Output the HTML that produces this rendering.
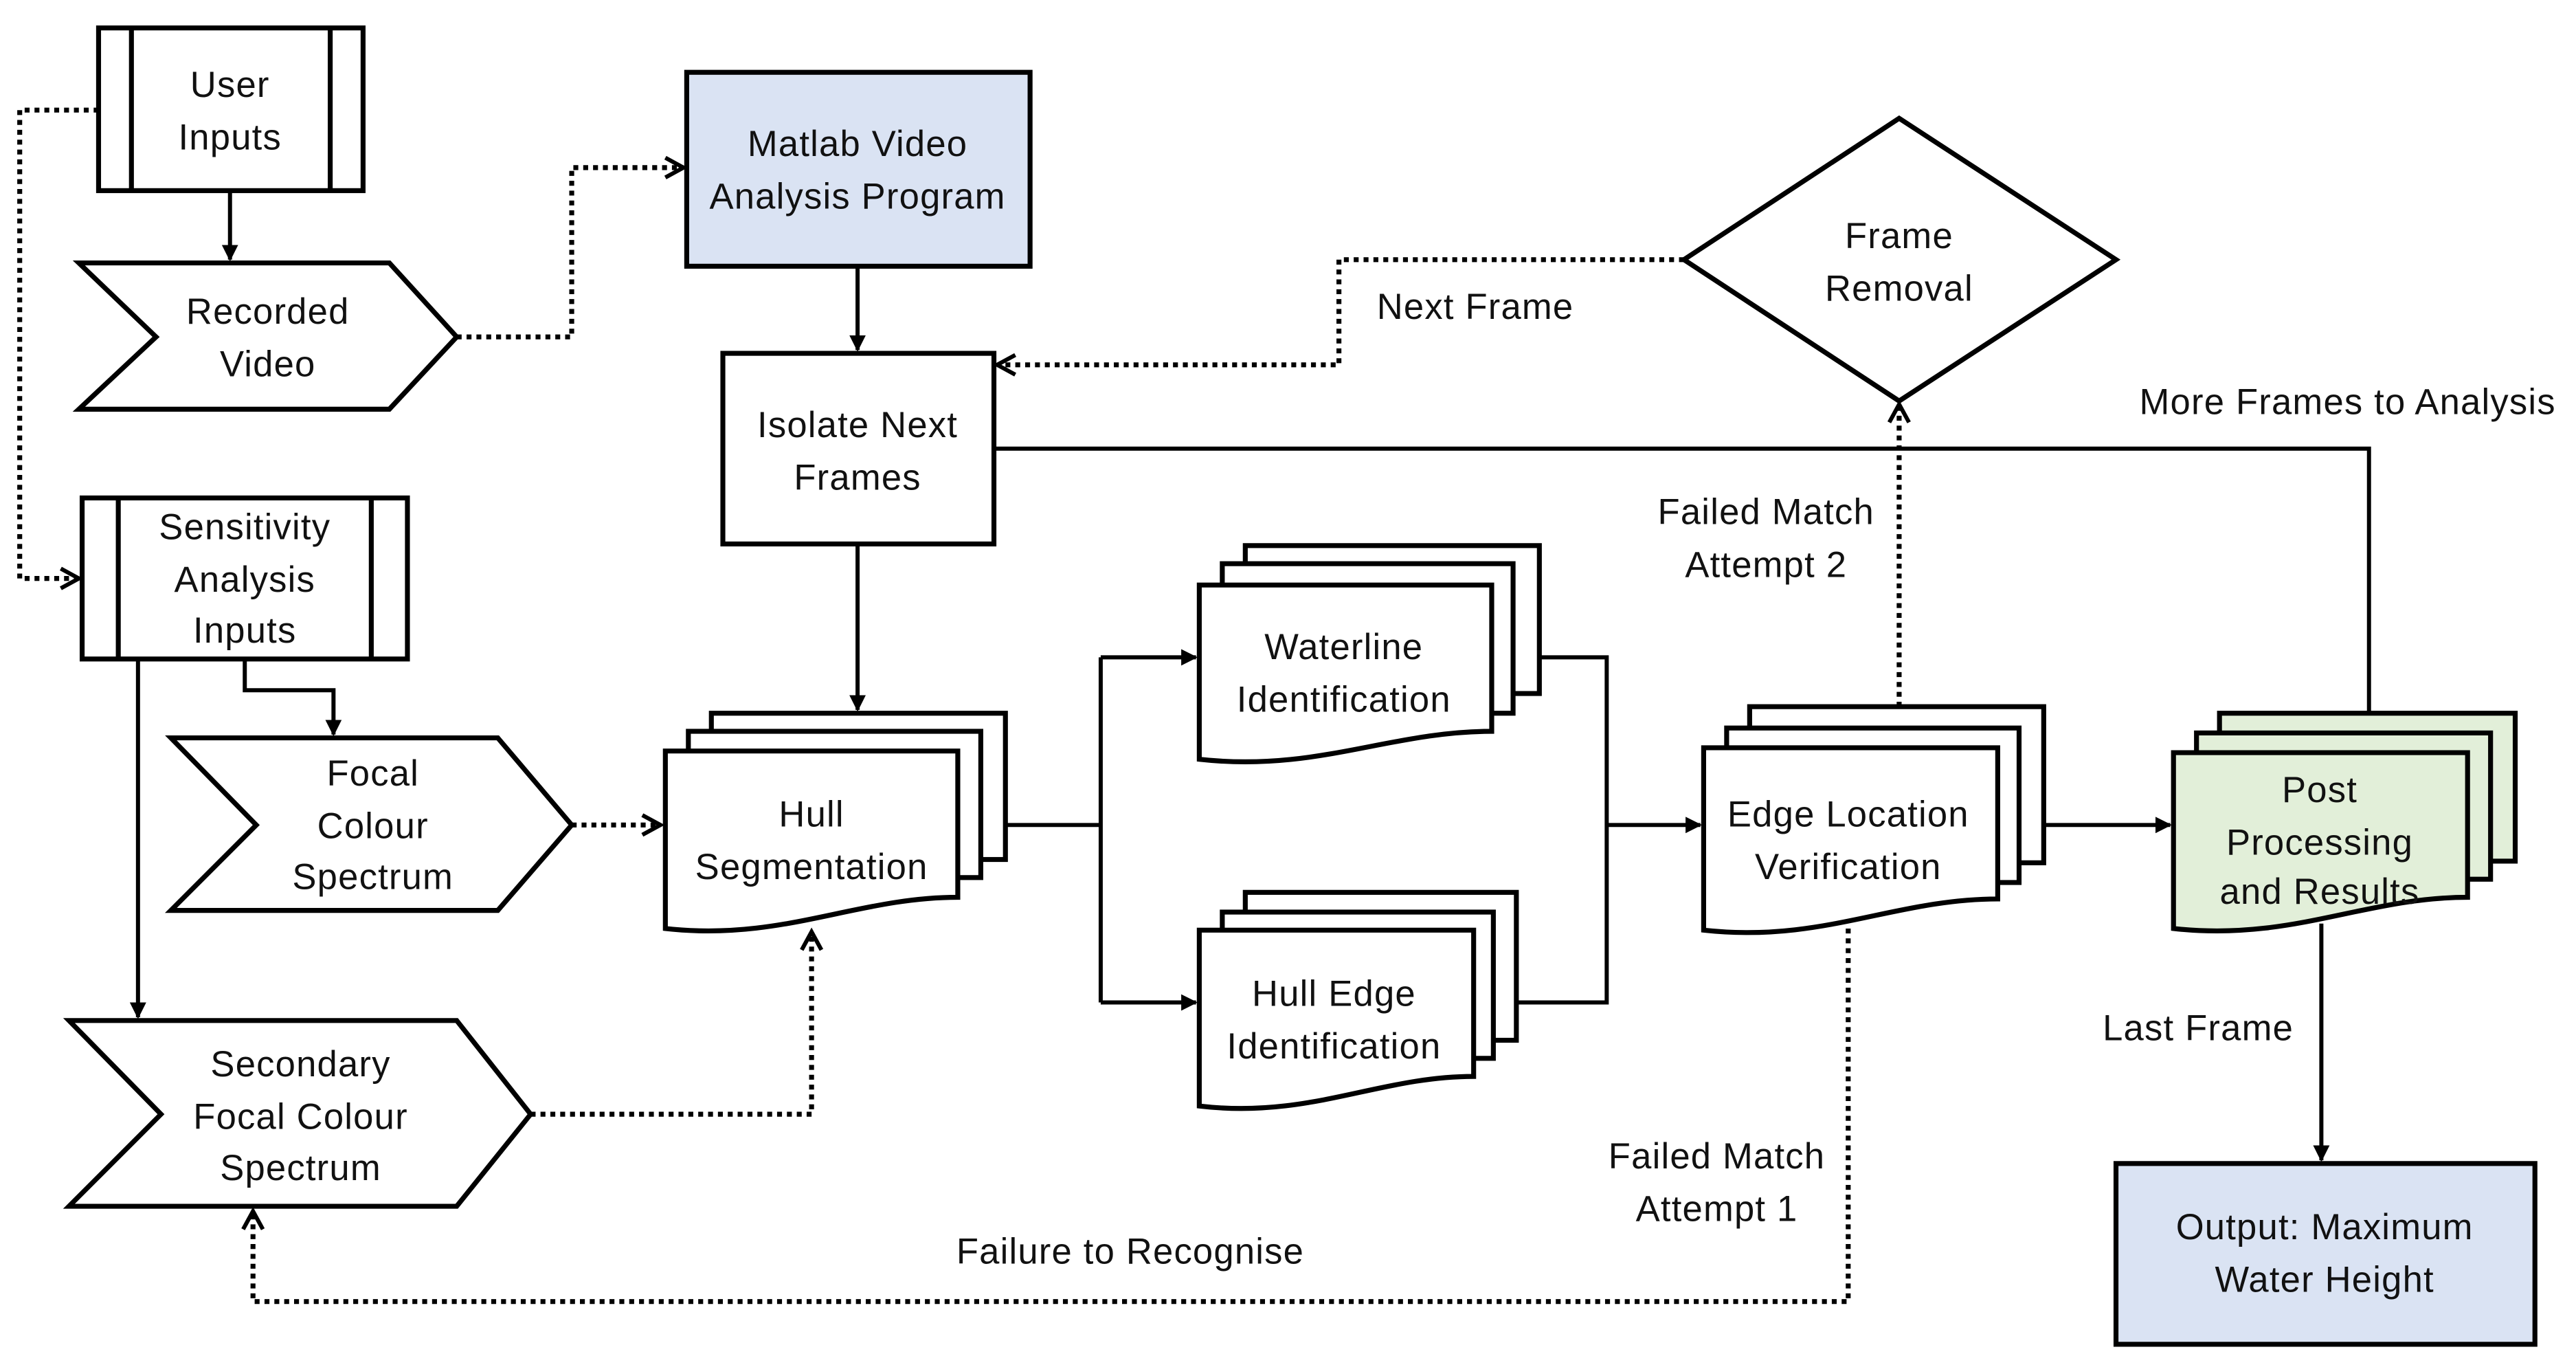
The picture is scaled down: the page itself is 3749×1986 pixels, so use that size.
<!DOCTYPE html>
<html><head><meta charset="utf-8"><style>
html,body{margin:0;padding:0;background:#fff;}
svg{display:block;}
text{font-family:"Liberation Sans",sans-serif;font-size:22px;letter-spacing:0.5px;fill:#111;text-anchor:middle;}
</style></head><body>
<svg width="3749" height="1986" viewBox="0 0 1568 830.6" preserveAspectRatio="none" xmlns="http://www.w3.org/2000/svg">
<defs>
<marker id="a" markerWidth="10" markerHeight="10" refX="9" refY="5" orient="auto" markerUnits="userSpaceOnUse" viewBox="0 0 10 10">
<path d="M0,0 L10,5 L0,10 Z" fill="#000"/></marker>
<marker id="b" markerWidth="16" markerHeight="16" refX="13" refY="8" orient="auto" markerUnits="userSpaceOnUse" viewBox="0 0 16 16">
<path d="M2,2 L13,8 L2,14" fill="none" stroke="#000" stroke-width="2.5"/></marker>
</defs>
<g fill="#fff" stroke="#000" stroke-width="3">
<rect x="60" y="17" width="161" height="99"/>
<line x1="80" y1="17" x2="80" y2="116"/><line x1="201" y1="17" x2="201" y2="116"/>
<polygon points="48,160 237,160 278,205 237,249 48,249 95,205"/>
<rect x="418" y="44" width="209" height="118" fill="#dae3f3"/>
<rect x="440" y="215" width="165" height="116"/>
<polygon points="1025,158 1156,72 1288,158 1156,244"/>
<rect x="50" y="303" width="198" height="98"/>
<line x1="72" y1="303" x2="72" y2="401"/><line x1="226" y1="303" x2="226" y2="401"/>
<polygon points="104,449 303,449 348,502 303,554 104,554 156,502"/>
<polygon points="42,621 278,621 323,678 278,734 42,734 98,678"/>
<!-- Hull seg -->
<rect x="433" y="434" width="179" height="89"/>
<rect x="419" y="445" width="178" height="89"/>
<path d="M405 457 H583 V546 C521 546 476 573 405 565 Z"/>
<!-- Waterline -->
<rect x="758" y="332" width="179" height="90"/>
<rect x="744" y="343" width="177" height="91"/>
<path d="M730 356 H908 V445 C846 445 801 470 730 462 Z"/>
<!-- Hull edge -->
<rect x="758" y="543" width="165" height="90"/>
<rect x="744" y="555" width="165" height="89"/>
<path d="M730 566 H897 V655 C839 655 797 681 730 673 Z"/>
<!-- Edge location -->
<rect x="1065" y="430" width="179" height="95"/>
<rect x="1051" y="443" width="178" height="94"/>
<path d="M1037 455 H1216 V547 C1153 547 1109 574 1037 566 Z"/>
<!-- Post processing -->
<g fill="#e2efd9">
<rect x="1351" y="434" width="180" height="90"/>
<rect x="1337" y="446" width="179" height="89"/>
<path d="M1323 458 H1502 V546 C1439 546 1395 573 1323 565 Z"/>
</g>
<rect x="1288" y="708" width="255" height="110" fill="#dae3f3"/>
</g>

<g fill="none" stroke="#000" stroke-width="2.5">
<line x1="140" y1="116" x2="140" y2="158" marker-end="url(#a)"/>
<line x1="522" y1="162" x2="522" y2="213" marker-end="url(#a)"/>
<line x1="522" y1="331" x2="522" y2="432" marker-end="url(#a)"/>
<polyline points="605,273 1442,273 1442,434"/>
<polyline points="149,401 149,420 203,420 203,447" marker-end="url(#a)"/>
<line x1="84" y1="401" x2="84" y2="619" marker-end="url(#a)"/>
<line x1="612" y1="502" x2="670" y2="502"/>
<line x1="670" y1="400" x2="670" y2="610"/>
<line x1="670" y1="400" x2="728" y2="400" marker-end="url(#a)"/>
<line x1="670" y1="610" x2="728" y2="610" marker-end="url(#a)"/>
<polyline points="937,400 978,400 978,610 923,610"/>
<line x1="978" y1="502" x2="1035" y2="502" marker-end="url(#a)"/>
<line x1="1244" y1="502" x2="1321" y2="502" marker-end="url(#a)"/>
<line x1="1413" y1="562" x2="1413" y2="706" marker-end="url(#a)"/>
</g>
<g fill="none" stroke="#000" stroke-width="3" stroke-dasharray="3,3">
<polyline points="278,205 348,205 348,102 416,102" marker-end="url(#b)"/>
<polyline points="60,67 12,67 12,352 48,352" marker-end="url(#b)"/>
<polyline points="1025,158 815,158 815,222 607,222" marker-end="url(#b)"/>
<line x1="1156" y1="430" x2="1156" y2="246" marker-end="url(#b)"/>
<line x1="348" y1="502" x2="402" y2="502" marker-end="url(#b)"/>
<polyline points="323,678 494,678 494,567" marker-end="url(#b)"/>
<polyline points="1125,565 1125,792 154,792 154,737" marker-end="url(#b)"/>
</g>

<text x="140" y="59">User</text><text x="140" y="91">Inputs</text>
<text x="163" y="197">Recorded</text><text x="163" y="229">Video</text>
<text x="522" y="95">Matlab Video</text><text x="522" y="127">Analysis Program</text>
<text x="522" y="266">Isolate Next</text><text x="522" y="298">Frames</text>
<text x="1156" y="151">Frame</text><text x="1156" y="183">Removal</text>
<text x="898" y="194">Next Frame</text>
<text x="1429" y="252">More Frames to Analysis</text>
<text x="1075" y="319">Failed Match</text><text x="1075" y="351">Attempt 2</text>
<text x="149" y="328">Sensitivity</text><text x="149" y="360">Analysis</text><text x="149" y="391">Inputs</text>
<text x="227" y="478">Focal</text><text x="227" y="510">Colour</text><text x="227" y="541">Spectrum</text>
<text x="183" y="655">Secondary</text><text x="183" y="687">Focal Colour</text><text x="183" y="718">Spectrum</text>
<text x="494" y="503">Hull</text><text x="494" y="535">Segmentation</text>
<text x="818" y="401">Waterline</text><text x="818" y="433">Identification</text>
<text x="812" y="612">Hull Edge</text><text x="812" y="644">Identification</text>
<text x="1125" y="503">Edge Location</text><text x="1125" y="535">Verification</text>
<text x="1412" y="488">Post</text><text x="1412" y="520">Processing</text><text x="1412" y="550">and Results</text>
<text x="1338" y="633">Last Frame</text>
<text x="1045" y="711">Failed Match</text><text x="1045" y="743">Attempt 1</text>
<text x="688" y="769">Failure to Recognise</text>
<text x="1415" y="754">Output: Maximum</text><text x="1415" y="786">Water Height</text>
</svg>
</body></html>
